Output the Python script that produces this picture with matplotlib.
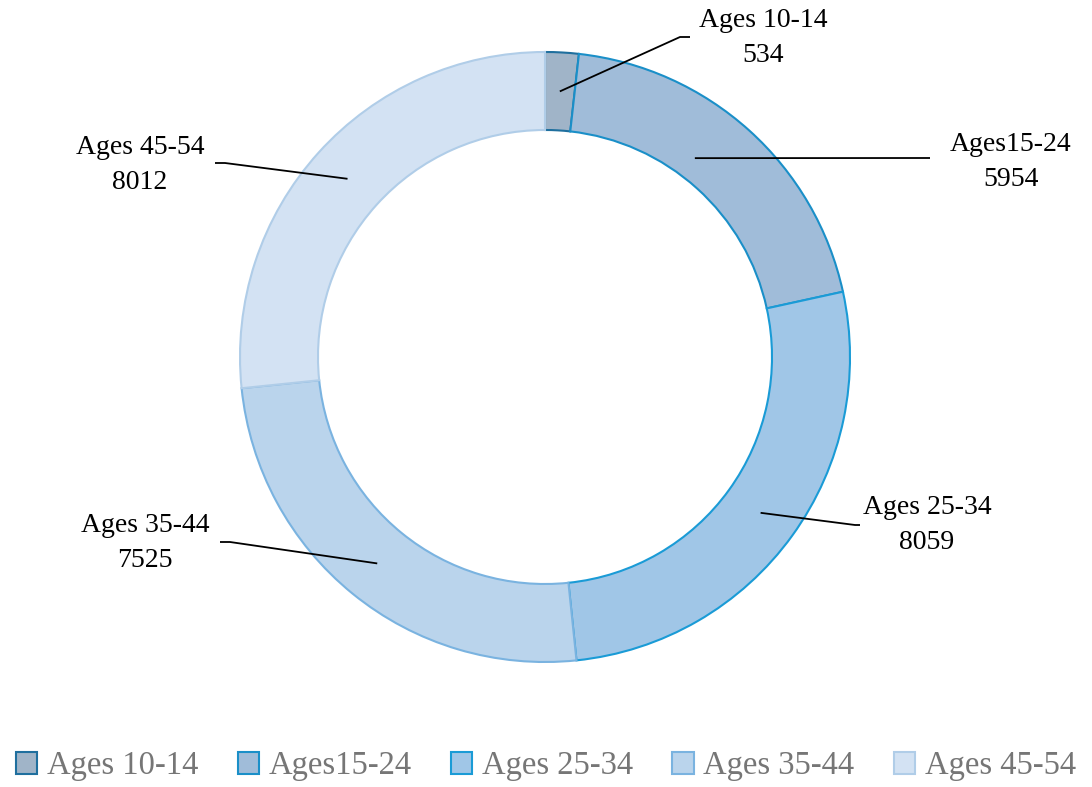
import numpy as np
import matplotlib.pyplot as plt

# data
labels = ['Ages 10-14', 'Ages15-24', 'Ages 25-34', 'Ages 35-44', 'Ages 45-54']
values = [534, 5954, 8059, 7525, 8012]
fill_colors = ['#a0b4c8', '#a0bcd9', '#a0c6e7', '#bad4ec', '#d3e2f3']
edge_colors = ['#1f6f9e', '#1a8fc8', '#1a9bd6', '#7ab3e0', '#b0cde8']

W, H = 1092, 787
fig = plt.figure(figsize=(W / 100, H / 100), dpi=100)
ax = fig.add_axes([0, 0, 1, 1])

plt.rcParams['font.family'] = ['Liberation Serif', 'DejaVu Serif']

cx, cy = 545, H - 357
r_out, r_in = 305, 227

wedges, _ = ax.pie(values, colors=fill_colors, startangle=90, counterclock=False,
                   center=(cx, cy), radius=r_out,
                   wedgeprops=dict(width=r_out - r_in, linewidth=1.5), frame=True)
for w, ec in zip(wedges, edge_colors):
    w.set_edgecolor(ec)
ax.set_xlim(0, W)
ax.set_ylim(0, H)
ax.set_aspect('equal')
ax.axis('off')

# label text positions (pixel layout) and elbow points
text_pos = [(763, H - 38), (1011, H - 162), (927, H - 525), (145, H - 543), (140, H - 165)]
elbows = [((680, H - 37), (690, H - 37)),
          ((930, H - 158), (930, H - 158)),
          ((855, H - 525), (860, H - 525)),
          ((230, H - 542), (220, H - 542)),
          ((225, H - 163), (215, H - 163))]
anchor_r = [266, 249, 266, 266, 266]

total = sum(values)
cum = np.cumsum([0] + values[:-1])
for i, (lab, v) in enumerate(zip(labels, values)):
    mid = 90 - 360 * (cum[i] + v / 2) / total
    if i == 1:
        mid = 53
    px = cx + anchor_r[i] * np.cos(np.radians(mid))
    py = cy + anchor_r[i] * np.sin(np.radians(mid))
    (ex1, ey1), (ex2, ey2) = elbows[i]
    ax.plot([px, ex1, ex2], [py, ey1, ey2], color='black', lw=1.3,
            solid_capstyle='butt')
    tx, ty = text_pos[i]
    ax.text(tx, ty, f'{lab}\n{v}', ha='center', va='center', fontsize=20,
            linespacing=1.52, color='black')

# legend
handles = [plt.Rectangle((0, 0), 1, 1, facecolor=fc, edgecolor=ec, linewidth=1.5)
           for fc, ec in zip(fill_colors, edge_colors)]
fig.legend(handles, labels, loc='lower center', ncol=5, frameon=False,
           bbox_to_anchor=(0.5, -0.03), fontsize=23.5, labelcolor='#767676',
           handlelength=0.65, handleheight=0.65, handletextpad=0.3,
           columnspacing=1.2)

fig.savefig('out.png', dpi=100)
